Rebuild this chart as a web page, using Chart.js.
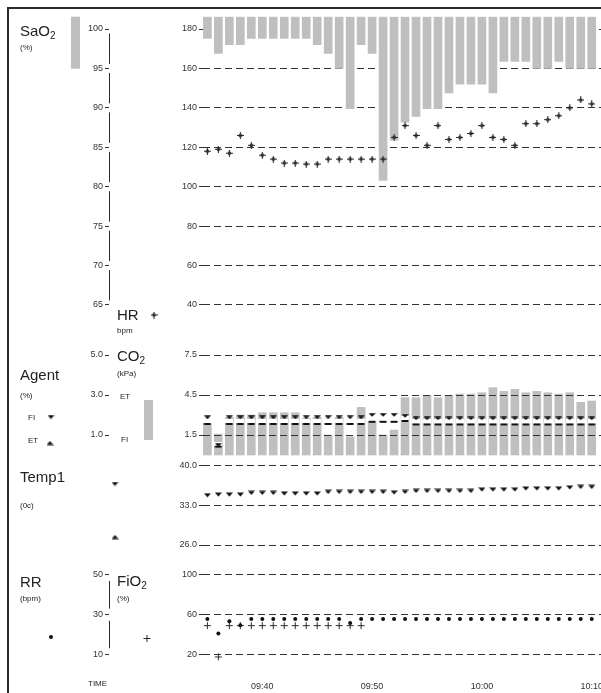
<!DOCTYPE html>
<html><head><meta charset="utf-8">
<script src="https://cdn.jsdelivr.net/npm/chart.js@4.4.1/dist/chart.umd.min.js"></script>
<style>
html,body{margin:0;padding:0;overflow:hidden;background:#fff;}
#wrap{position:relative;width:601px;height:693px;overflow:hidden;background:#fff;}
#c{position:absolute;left:0;top:0;}
#frame{position:absolute;left:7px;top:7px;width:800px;height:800px;border-left:2px solid #2a2a2a;border-top:2px solid #2a2a2a;pointer-events:none;}
</style></head><body>
<div id="wrap"><canvas id="c" width="620" height="693"></canvas><div id="frame"></div></div>
<script>
// ---- data (minutes after 09:00) ----
const MINUTES = [35,36,37,38,39,40,41,42,43,44,45,46,47,48,49,50,51,52,53,54,55,56,57,58,59,60,61,62,63,64,65,66,67,68,69,70];
const HR = [118,119,117,126,121,116,114,112,112,111.5,111.5,114,114,114,114,114,114,125,131,126,121,131,124,125,127,131,125,124,121,132,132,134,136,140,144,142];
const SAO2 = [98.8,96.9,98.0,98.0,98.8,98.8,98.8,98.8,98.8,98.8,98.0,96.9,95.0,89.9,98.0,96.9,80.8,85.9,88.2,88.9,89.9,89.9,91.9,93.0,93.0,93.0,91.9,95.9,95.9,95.9,95.0,95.0,95.9,95.0,95.0,95.0];
const CO2_ET = [2.32,1.57,2.82,3.0,3.0,3.17,3.17,3.17,3.17,2.75,2.82,1.5,2.82,1.37,3.57,2.5,1.5,1.87,4.3,4.3,4.47,4.3,4.47,4.57,4.57,4.67,5.05,4.77,4.92,4.67,4.77,4.67,4.57,4.67,3.95,4.05];
const AGENT_FI = [1.88,0.5,1.88,1.88,1.88,1.88,1.88,1.88,1.88,1.88,1.88,1.88,1.88,1.88,1.88,2.0,2.0,2.0,1.95,1.83,1.83,1.83,1.83,1.83,1.83,1.83,1.83,1.83,1.83,1.83,1.83,1.83,1.83,1.83,1.83,1.83];
const AGENT_ET = [1.55,0.42,1.55,1.55,1.55,1.55,1.55,1.55,1.55,1.55,1.55,1.55,1.55,1.55,1.55,1.66,1.66,1.66,1.7,1.53,1.53,1.53,1.53,1.53,1.53,1.53,1.53,1.53,1.53,1.53,1.53,1.53,1.53,1.53,1.53,1.53];
const TEMP1 = [34.76,34.88,34.88,34.88,35.17,35.17,35.17,35.06,35.06,35.06,35.06,35.34,35.34,35.34,35.34,35.34,35.34,35.24,35.34,35.52,35.52,35.52,35.52,35.52,35.52,35.76,35.76,35.76,35.76,35.94,35.94,35.94,35.94,36.12,36.22,36.22];
const RR = [27.8,20.5,26.7,24.7,27.8,27.8,27.8,27.8,27.8,27.8,27.8,27.8,27.8,25.8,27.8,27.8,27.8,27.8,27.8,27.8,27.8,27.8,27.8,27.8,27.8,27.8,27.8,27.8,27.8,27.8,27.8,27.8,27.8,27.8,27.8,27.8];
const FIO2 = [48.9,17.3,48.9,48.9,48.9,48.9,48.9,48.9,48.9,48.9,48.9,48.9,48.9,48.9,48.9,null,null,null,null,null,null,null,null,null,null,null,null,null,null,null,null,null,null,null,null,null];

// ---- tick labels ----
const X_TICKS = [40,50,60,70];
const X_TICK_LABELS = ['09:40','09:50','10:00','10:10'];
const HR_TICKS = [180,160,140,120,100,80,60,40];
const SAO2_TICKS = [100,95,90,85,80,75,70,65];
const CO2_TICKS = [7.5,4.5,1.5];
const AGENT_TICKS = [5.0,3.0,1.0];
const TEMP_TICKS = [40.0,33.0,26.0];
const FIO2_TICKS = [100,60,20];
const RR_TICKS = [50,30,10];

// ---- scale ranges ----
const HR_MIN = 24.78, HR_MAX = 186.24;
const SAO2_MIN = 100 - (180 - HR_MIN) / 4, SAO2_MAX = 100 - (180 - HR_MAX) / 4;
const CO2_MIN = -0.225, CO2_MAX = 9.0;
const AG_MIN = CO2_MIN / 1.5, AG_MAX = CO2_MAX / 1.5;
const T_MIN = 23.36, T_MAX = 41.32;
const F_MIN = 2.14, F_MAX = 115.13;
const RR_MIN = F_MIN / 2, RR_MAX = F_MAX / 2;

const FONT = "'Liberation Sans', Arial, Helvetica, sans-serif";
const INK = '#2b2b2b';
const GREY = '#bfbfbf';

function glyph(w, h, draw) { const c = document.createElement('canvas'); c.width = w; c.height = h; draw(c.getContext('2d')); return c; }
const HR_GLYPH = glyph(7, 7, g => {
  g.strokeStyle = INK; g.lineWidth = 1; g.beginPath();
  g.moveTo(0, 3.5); g.lineTo(7, 3.5); g.moveTo(3.5, 0); g.lineTo(3.5, 7); g.stroke();
  g.fillStyle = INK; g.beginPath(); g.moveTo(3.5, 1.1); g.lineTo(5.9, 3.5); g.lineTo(3.5, 5.9); g.lineTo(1.1, 3.5); g.closePath(); g.fill();
});
const DOWN_TRI = glyph(7, 5, g => { g.fillStyle = '#111'; g.beginPath(); g.moveTo(0, 0.5); g.lineTo(7, 0.5); g.lineTo(3.5, 4.5); g.closePath(); g.fill(); });
const UP_TRI = glyph(7, 5, g => { g.fillStyle = '#111'; g.beginPath(); g.moveTo(0, 4.5); g.lineTo(7, 4.5); g.lineTo(3.5, 0.5); g.closePath(); g.fill(); });
const AG_FI_GLYPH = glyph(7, 4, g => { g.fillStyle = '#111'; g.beginPath(); g.moveTo(0, 0.3); g.lineTo(7, 0.3); g.lineTo(3.5, 3.8); g.closePath(); g.fill(); });
const AG_ET_GLYPH = glyph(8, 10, g => { g.fillStyle = '#fff'; g.fillRect(0, 0, 8, 6); g.fillStyle = '#111'; g.fillRect(0.5, 4, 7, 2); });

const pts = (arr) => MINUTES.map((m, i) => ({ x: m, y: arr[i] }));

const tickFont = { family: FONT, size: 9 };
function yAxis(stack, weight, min, max, ticks, fmt, width, extra) {
  const inner = stack === 'inner';
  return Object.assign({
    type: 'linear', position: 'left', stack: stack, weight: weight,
    min: min, max: max, offset: false,
    grid: { display: true, drawOnChartArea: inner, drawTicks: true, tickLength: 4, color: '#333', tickColor: '#333', lineWidth: 1, tickWidth: 1, tickBorderDash: [] },
    border: { display: false, dash: [7, 4] },
    ticks: { font: tickFont, color: '#333', padding: 2, autoSkip: false, callback: fmt },
    afterBuildTicks: s => { s.ticks = ticks.map(v => ({ value: v })); },
    afterFit: s => { s.width = width; }
  }, extra || {});
}
const PANEL_H = { A: 318.3, B: 123, C: 102, D: 112 };
const intFmt = v => String(v);
const oneFmt = v => Number(v).toFixed(1);

const scales = {
  x: {
    type: 'linear', position: 'bottom', min: 34.6, max: 72.12, offset: false,
    grid: { display: false }, border: { display: false },
    ticks: { font: tickFont, color: '#333', padding: 1, maxRotation: 0, autoSkip: false,
      callback: v => { const i = X_TICKS.indexOf(v); return i >= 0 ? X_TICK_LABELS[i] : ''; } },
    afterBuildTicks: s => { s.ticks = X_TICKS.map(v => ({ value: v })); },
    afterFit: s => { s.height = 21; }
  },
  sao2: yAxis('outer', 14, SAO2_MIN, SAO2_MAX, SAO2_TICKS, intFmt, 109, { stackWeight: PANEL_H.A }),
  agent: yAxis('outer', 13, AG_MIN, AG_MAX, AGENT_TICKS, oneFmt, 109, { stackWeight: PANEL_H.B }),
  tOuter: { type: 'linear', position: 'left', stack: 'outer', weight: 12, stackWeight: PANEL_H.C, min: 0, max: 1,
    grid: { display: false }, border: { display: false }, ticks: { display: false }, afterFit: s => { s.width = 109; } },
  rrAx: yAxis('outer', 11, RR_MIN, RR_MAX, RR_TICKS, intFmt, 109, { stackWeight: PANEL_H.D }),
  hr: yAxis('inner', 4, HR_MIN, HR_MAX, HR_TICKS, intFmt, 94, { stackWeight: PANEL_H.A }),
  co2: yAxis('inner', 3, CO2_MIN, CO2_MAX, CO2_TICKS, oneFmt, 94, { stackWeight: PANEL_H.B }),
  temp: yAxis('inner', 2, T_MIN, T_MAX, TEMP_TICKS, oneFmt, 94, { stackWeight: PANEL_H.C }),
  fio2: yAxis('inner', 1, F_MIN, F_MAX, FIO2_TICKS, intFmt, 94, { stackWeight: PANEL_H.D })
};
scales.co2.grid.z = 1;

function sub(ctx, main, s, x, y, size) {
  ctx.font = size + 'px ' + FONT; ctx.fillText(main, x, y);
  const w = ctx.measureText(main).width;
  ctx.font = Math.round(size * 0.68) + 'px ' + FONT; ctx.fillText(s, x + w, y + 3);
}
function vline(ctx, scale, vals, gap) {
  const x = Math.round(scale.right) + 0.5;
  ctx.beginPath();
  for (let i = 0; i < vals.length - 1; i++) {
    const y1 = scale.getPixelForValue(vals[i]) + gap, y2 = scale.getPixelForValue(vals[i + 1]) - gap;
    ctx.moveTo(x, y1); ctx.lineTo(x, y2);
  }
  ctx.stroke();
}
const decor = {
  id: 'decor',
  afterDraw(chart) {
    const ctx = chart.ctx; ctx.save();
    ctx.strokeStyle = INK; ctx.lineWidth = 1;
    vline(ctx, chart.scales.sao2, SAO2_TICKS, 4.5);
    vline(ctx, chart.scales.rrAx, RR_TICKS, 6);
    ctx.fillStyle = '#222'; ctx.textAlign = 'left'; ctx.textBaseline = 'alphabetic';
    const big = 15, small = 8;
    sub(ctx, 'SaO', '2', 20, 36, big);
    ctx.font = small + 'px ' + FONT;
    ctx.fillText('(%)', 20, 50);
    ctx.font = big + 'px ' + FONT; ctx.fillText('HR', 117, 320);
    ctx.font = small + 'px ' + FONT; ctx.fillText('bpm', 117, 333);
    ctx.font = big + 'px ' + FONT; ctx.fillText('Agent', 20, 380);
    ctx.font = small + 'px ' + FONT; ctx.fillText('(%)', 20, 398);
    ctx.fillText('FI', 28, 420); ctx.fillText('ET', 28, 443);
    sub(ctx, 'CO', '2', 117, 361, big);
    ctx.font = small + 'px ' + FONT; ctx.fillText('(kPa)', 117, 376);
    ctx.fillText('ET', 120, 399); ctx.fillText('FI', 121, 442);
    ctx.font = big + 'px ' + FONT; ctx.fillText('Temp1', 20, 482);
    ctx.font = small + 'px ' + FONT; ctx.fillText('(0c)', 20, 508);
    ctx.font = big + 'px ' + FONT; ctx.fillText('RR', 20, 587);
    ctx.font = small + 'px ' + FONT; ctx.fillText('(bpm)', 20, 601);
    sub(ctx, 'FiO', '2', 117, 586, big);
    ctx.font = small + 'px ' + FONT; ctx.fillText('(%)', 117, 601);
    ctx.fillText('TIME', 88, 686);
    // legend glyphs
    ctx.fillStyle = GREY; ctx.fillRect(71, 16.7, 9, 52); ctx.fillRect(144, 400, 9, 40);
    ctx.drawImage(HR_GLYPH, 154 - 3.5, 315 - 3.5);
    ctx.drawImage(DOWN_TRI, 51 - 3.5, 417 - 2.5);
    ctx.drawImage(UP_TRI, 50 - 3.5, 443 - 2.5);
    ctx.drawImage(DOWN_TRI, 115 - 3.5, 484 - 2.5);
    ctx.drawImage(UP_TRI, 115 - 3.5, 537 - 2.5);
    ctx.fillStyle = '#111'; ctx.beginPath(); ctx.arc(51, 637, 2, 0, Math.PI * 2); ctx.fill();
    ctx.beginPath(); ctx.moveTo(143.5, 638.5); ctx.lineTo(150.5, 638.5); ctx.moveTo(147, 635); ctx.lineTo(147, 642); ctx.stroke();
    ctx.restore();
  }
};

new Chart(document.getElementById('c'), {
  data: {
    datasets: [
      { type: 'bar', label: 'SaO2', yAxisID: 'sao2', data: pts(SAO2), base: SAO2_MAX, backgroundColor: GREY, borderWidth: 0, barThickness: 8, grouped: false, order: 10 },
      { type: 'bar', label: 'CO2 ET', yAxisID: 'co2', data: pts(CO2_ET), backgroundColor: GREY, borderWidth: 0, barThickness: 8, grouped: false, order: 10 },
      { type: 'line', label: 'HR', yAxisID: 'hr', data: pts(HR), showLine: false, pointStyle: HR_GLYPH, pointRadius: 4, order: 1 },
      { type: 'line', label: 'Agent ET', yAxisID: 'agent', data: pts(AGENT_ET), showLine: false, pointStyle: AG_ET_GLYPH, pointRadius: 4, order: 2 },
      { type: 'line', label: 'Agent FI', yAxisID: 'agent', data: pts(AGENT_FI), showLine: false, pointStyle: AG_FI_GLYPH, pointRadius: 4, order: 1 },
      { type: 'line', label: 'Temp1', yAxisID: 'temp', data: pts(TEMP1), showLine: false, pointStyle: DOWN_TRI, pointRadius: 4, order: 1 },
      { type: 'line', label: 'RR', yAxisID: 'rrAx', data: pts(RR), showLine: false, pointStyle: 'circle', pointRadius: 2, backgroundColor: '#111', borderWidth: 0, order: 1 },
      { type: 'line', label: 'FiO2', yAxisID: 'fio2', data: pts(FIO2), showLine: false, pointStyle: 'cross', pointRadius: 3.5, borderColor: INK, borderWidth: 1, order: 1 }
    ]
  },
  options: {
    responsive: false, animation: false, events: [], devicePixelRatio: 1,
    layout: { padding: { left: 0, top: 16.7, right: 0, bottom: 0 } },
    plugins: { legend: { display: false }, tooltip: { enabled: false } },
    scales: scales
  },
  plugins: [decor]
});
</script>
</body></html>
